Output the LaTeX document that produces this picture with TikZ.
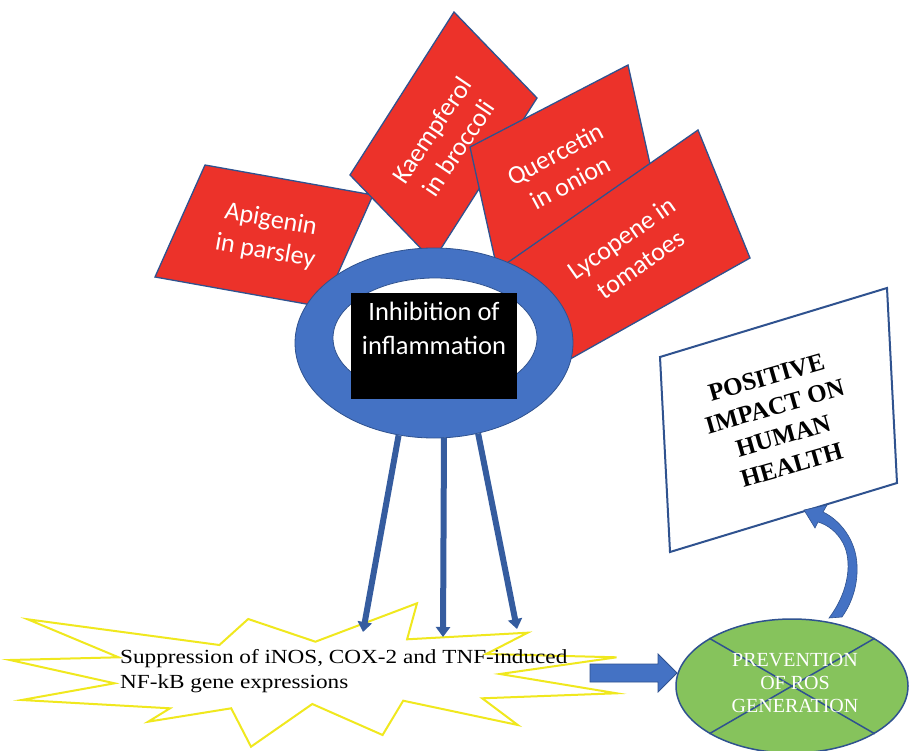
\documentclass[tikz,border=0pt]{standalone}
\usepackage{fontspec}
\usetikzlibrary{shapes.geometric,arrows.meta}
\newfontfamily\calib{Carlito}
\newfontfamily\geo[FakeStretch=1.16]{Liberation Serif}
\newfontfamily\tnr{Liberation Serif}
\definecolor{ringblue}{RGB}{68,114,196}
\definecolor{edgeblue}{RGB}{47,82,143}
\definecolor{tomred}{RGB}{236,50,42}
\definecolor{leaf}{RGB}{134,195,92}
\definecolor{burst}{RGB}{240,232,30}
\begin{document}
\begin{tikzpicture}[x=1pt,y=-1pt,
  redbox/.style={fill=tomred,draw=edgeblue,line width=1.3pt,line join=miter},
  redtext/.style={text=white,font=\calib\fontsize{26}{32}\selectfont,align=center,inner sep=0pt},
  thinarrow/.style={draw=edgeblue!70!ringblue,line width=6pt,-{Triangle[width=14pt,length=10pt]}},
  bluefill/.style={fill=ringblue,draw=edgeblue,line width=0.8pt}]
\useasboundingbox[fill=white] (0,0) rectangle (910,751);

% food sources
\path[redbox] (205,165) -- (373,195) -- (323,307) -- (155,277) -- cycle;
\node[redtext,rotate=-10] (apigenin) at (268,236) {Apigenin\\in parsley};
\path[redbox] (454,12) -- (537,98) -- (433,261) -- (350,175) -- cycle;
\node[redtext,rotate=56] (kaempferol) at (445,139) {Kaempferol\\in broccoli};
\path[redbox] (470,147) -- (628,65) -- (658,200) -- (500,282) -- cycle;
\node[redtext,rotate=28] (quercetin) at (563,168) {Quercetin\\in onion};
\path[redbox] (698,130) -- (750,258) -- (540,376) -- (497,270) -- cycle;
\node[redtext,rotate=35] (lycopene) at (631,251) {Lycopene in\\tomatoes};

% central ring
\node[ellipse,bluefill,minimum width=278pt,minimum height=190pt] (ring) at (434,343) {};
\node[ellipse,fill=white,draw=edgeblue,line width=0.8pt,minimum width=204pt,minimum height=120pt] (hole) at (435,338) {};
\node[fill=black,minimum width=166pt,minimum height=105pt,inner sep=0pt] (inhib) at (434,346) {};
\node[text=white,font=\calib\fontsize{26.5}{34}\selectfont,align=center,inner sep=0pt] (inhibtext) at (434,328) {Inhibition of\\inflammation};

% starburst
\path[fill=white,draw=burst,line width=2pt,line join=miter]
  (27.7,619.3) -- (118.6,657.3) -- (9.9,660) -- (114.6,683.3) -- (21.7,700)
  -- (170,708.3) -- (148.2,721.7) -- (231.2,708.3) -- (251,746.7) -- (312.3,704)
  -- (382.6,735) -- (403.2,700.7) -- (517.8,725) -- (482.2,698.3) -- (616.6,693.3)
  -- (500,674) -- (616.6,657.3) -- (486.2,654) -- (527.7,632.7) -- (407.1,639.3)
  -- (417,603.3) -- (315.4,641.7) -- (248.2,619) -- (219.4,645) -- cycle;
\node[anchor=west,align=left,inner sep=0pt,font=\geo\fontsize{20}{25}\selectfont] (supp) at (120,671)
  {Suppression of iNOS, COX-2 and TNF-induced\\NF-kB gene expressions};

% arrows from the ring
\coordinate (tipL) at (363,632);
\coordinate (tipM) at (443,637);
\coordinate (tipR) at (517,629);
\draw[thinarrow] (ring.-111.6) -- (tipL);
\draw[thinarrow] (ring.-84.3) -- (tipM);
\draw[thinarrow] (ring.-64.8) -- (tipR);

% prevention of ROS
\path[bluefill] (590,664) -- (658,664) -- (658,654) -- (677,673) -- (658,692) -- (658,682) -- (590,682) -- cycle;
\node[ellipse,fill=leaf,draw=edgeblue,line width=1.5pt,minimum width=232pt,minimum height=134pt] (ros) at (792,686) {};
\draw[edgeblue,line width=1.5pt] (ros.30) -- (ros.210);
\draw[edgeblue,line width=1.5pt] (ros.150) -- (ros.-30);
\node[text=white,font=\tnr\fontsize{20}{23.3}\selectfont,align=center,inner sep=0pt] (rostext) at (795,683) {PREVENTION\\OF ROS\\GENERATION};

% health box
\path[fill=white,draw=edgeblue,line width=2pt] (660,357) -- (887,288) -- (897,483) -- (670,552) -- cycle;
\node[rotate=16,font=\tnr\bfseries\fontsize{25}{30.5}\selectfont,align=center,inner sep=0pt] (health) at (779,421) {POSITIVE\\IMPACT ON\\HUMAN\\HEALTH};

% curved arrow up to the box
\path[fill=ringblue,draw=edgeblue,line width=0.6pt]
  (829,618) .. controls (850,590) and (852,560) .. (843,543)
  .. controls (837,532) and (828,525) .. (818,522)
  -- (815,528) -- (804,510) -- (827,505) -- (823,512)
  .. controls (840,520) and (856,540) .. (857,565)
  .. controls (858,585) and (852,603) .. (842,617) -- cycle;
\end{tikzpicture}
\end{document}
